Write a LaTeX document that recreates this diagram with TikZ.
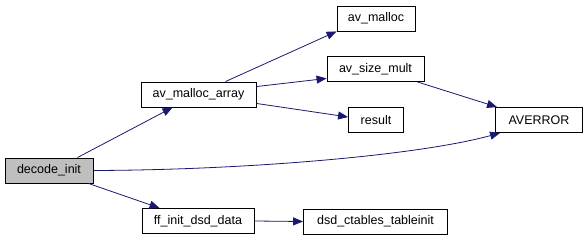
\documentclass[tikz,border=0pt]{standalone}
\usepackage{fontspec}
\setmainfont{Liberation Sans}
\usetikzlibrary{arrows.meta}
\definecolor{edgeblue}{HTML}{191970}
\definecolor{grayfill}{HTML}{BFBFBF}
\begin{document}
\begin{tikzpicture}[x=1pt,y=-1pt,
  fn/.style={draw=black, line width=0.9pt, fill=white, inner sep=0pt, minimum height=25pt, font=\fontsize{12.5}{14}\selectfont},
  call/.style={draw=edgeblue, line width=0.8pt, -{Triangle[length=10pt,width=8pt]}}]
\useasboundingbox (0,0) rectangle (588,240);
\node[fn, fill=grayfill, minimum width=88pt] (dec) at (49,170.5) {decode\_init};
\node[fn, minimum width=115pt] (ama) at (198.5,94.5) {av\_malloc\_array};
\node[fn, minimum width=112pt] (ffi) at (198,221) {ff\_init\_dsd\_data};
\node[fn, minimum width=78pt] (am) at (376,18.5) {av\_malloc};
\node[fn, minimum width=97pt] (asm) at (375.5,69) {av\_size\_mult};
\node[fn, minimum width=55pt] (res) at (376,120) {result};
\node[fn, minimum width=87pt] (ave) at (539,120) {AVERROR};
\node[fn, minimum width=144pt] (dsd) at (375.5,221.5) {dsd\_ctables\_tableinit};
% calls from decode_init
\draw[call] ([xshift=-16pt]dec.north east) -- ([xshift=32pt]ama.south west);
\draw[call] ([xshift=-5pt]dec.south east) -- ([xshift=18pt]ffi.north west);
\draw[call] (dec.east) .. controls (250,170) and (420,155) .. ([xshift=5pt]ave.south west);
% calls from av_malloc_array
\draw[call] ([xshift=-31pt]ama.north east) -- (am.south west);
\draw[call] ([yshift=-5pt]ama.north east) -- ([yshift=3.5pt]asm.south west);
\draw[call] ([yshift=4pt]ama.south east) -- ([yshift=3pt]res.west);
% remaining calls
\draw[call] ([xshift=-7pt]asm.south east) -- ([xshift=2pt]ave.north west);
\draw[call] (ffi.east) -- (dsd.west);
\end{tikzpicture}
\end{document}
